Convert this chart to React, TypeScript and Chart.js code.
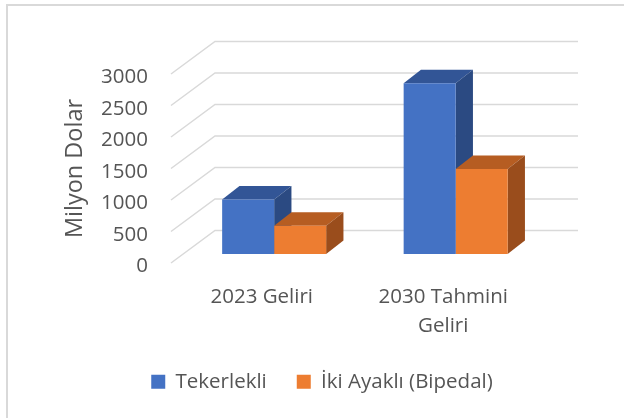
import React, { useEffect, useRef } from "react";
import { Chart, registerables } from "chart.js";

Chart.register(...registerables);

// ---- data ----
const categories = ["2023 Geliri", "2030 Tahmini Geliri"];
const seriesNames = ["Tekerlekli", "İki Ayaklı (Bipedal)"];
const tekerlekli = [865, 2710];
const ikiAyakli = [450, 1350];
const yTickValues = [0, 500, 1000, 1500, 2000, 2500, 3000];
const yAxisTitle = "Milyon Dolar";

// ---- style ----
const FONT = "'Open Sans', 'Noto Sans', sans-serif";
const TEXT = "#555555";
const GRID = "#d9d9d9";
const FRONT_COLORS = ["#4472C4", "#ED7D31"];
const TOP_COLORS = ["#325596", "#B65D22"];
const SIDE_COLORS = ["#2B4A82", "#9A4D1C"];
const FLOOR_DX = 44;
const FLOOR_DY = -32.5;
const BAR_DX = 12.4;
const BAR_DY = -9;
const DEPTH_DX = 17.3;
const DEPTH_DY = -13.5;

function wrapLabel(label: string): string | string[] {
  if (label.length <= 12) return label;
  const w = label.split(" ");
  return [w.slice(0, 2).join(" "), w.slice(2).join(" ")];
}

const threeD = {
  id: "threeD",
  beforeDraw(chart: any) {
    const { ctx, width, height } = chart;
    ctx.save();
    ctx.fillStyle = GRID;
    ctx.fillRect(6, 4, width - 6, 2);
    ctx.fillRect(6, 4, 2, height - 4);
    ctx.restore();
  },
  beforeDatasetsDraw(chart: any) {
    const { ctx, chartArea } = chart;
    const y = chart.scales.y;
    ctx.save();
    ctx.strokeStyle = GRID;
    ctx.lineWidth = 1.5;
    y.ticks.forEach((t: any) => {
      const py = y.getPixelForValue(t.value);
      ctx.beginPath();
      ctx.moveTo(chartArea.left, py);
      ctx.lineTo(chartArea.left + FLOOR_DX, py + FLOOR_DY);
      ctx.lineTo(chartArea.right + FLOOR_DX, py + FLOOR_DY);
      ctx.stroke();
    });
    ctx.restore();

    ctx.save();
    ctx.translate(BAR_DX, BAR_DY);
    chart.data.datasets.forEach((_ds: any, di: number) => {
      const meta = chart.getDatasetMeta(di);
      meta.data.forEach((bar: any) => {
        const { x, y: top, base, width } = bar.getProps(["x", "y", "base", "width"], true);
        const l = x - width / 2;
        const r = x + width / 2;
        ctx.fillStyle = TOP_COLORS[di];
        ctx.beginPath();
        ctx.moveTo(l, top);
        ctx.lineTo(l + DEPTH_DX, top + DEPTH_DY);
        ctx.lineTo(r + DEPTH_DX, top + DEPTH_DY);
        ctx.lineTo(r, top);
        ctx.closePath();
        ctx.fill();
        ctx.fillStyle = SIDE_COLORS[di];
        ctx.beginPath();
        ctx.moveTo(r, top);
        ctx.lineTo(r + DEPTH_DX, top + DEPTH_DY);
        ctx.lineTo(r + DEPTH_DX, base + DEPTH_DY);
        ctx.lineTo(r, base);
        ctx.closePath();
        ctx.fill();
      });
    });
  },
  afterDatasetsDraw(chart: any) {
    chart.ctx.restore();
  },
};

export default function App() {
  const ref = useRef<HTMLCanvasElement>(null);

  useEffect(() => {
    if (!ref.current) return;
    const tickFont = { family: FONT, size: 20.5, lineHeight: 1.4 };
    const chart = new Chart(ref.current, {
      type: "bar",
      data: {
        labels: categories.map(wrapLabel),
        datasets: [
          {
            label: seriesNames[0],
            data: tekerlekli,
            backgroundColor: FRONT_COLORS[0],
            borderWidth: 0,
            clip: false,
            barPercentage: 1,
            categoryPercentage: 0.573,
          },
          {
            label: seriesNames[1],
            data: ikiAyakli,
            backgroundColor: FRONT_COLORS[1],
            borderWidth: 0,
            clip: false,
            barPercentage: 1,
            categoryPercentage: 0.573,
          },
        ] as any,
      },
      options: {
        responsive: false,
        animation: false,
        devicePixelRatio: 1,
        layout: { padding: { left: 20, right: 0, top: 74, bottom: 16 } },
        plugins: {
          legend: {
            position: "bottom",
            labels: {
              boxWidth: 14,
              boxHeight: 14,
              padding: 30,
              color: TEXT,
              font: { family: FONT, size: 20.5 },
            },
          },
          tooltip: { enabled: false },
        },
        scales: {
          x: {
            grid: { display: false, drawTicks: false },
            border: { display: false },
            ticks: {
              color: TEXT,
              font: tickFont,
              padding: 20,
              maxRotation: 0,
              autoSkip: false,
            },
            afterFit: (s: any) => {
              s.height = 78.5;
            },
          },
          y: {
            min: 0,
            max: 3000,
            afterBuildTicks: (s: any) => {
              s.ticks = yTickValues.map((v) => ({ value: v }));
            },
            grid: { display: false, drawTicks: false },
            border: { display: false },
            ticks: {
              color: TEXT,
              font: { family: FONT, size: 20.5 },
              padding: 23,
              labelOffset: 3.5,
              callback: (v: any) => String(v),
            },
            title: {
              display: true,
              text: yAxisTitle,
              color: TEXT,
              font: { family: FONT, size: 23.5 },
              padding: { top: 41, bottom: 14 },
            },
            afterFit: (s: any) => {
              s.width = 151;
            },
          },
          y2: {
            position: "right",
            grid: { display: false, drawTicks: false },
            border: { display: false },
            ticks: { display: false },
            afterFit: (s: any) => {
              s.width = 90;
            },
          },
        },
      } as any,
      plugins: [threeD],
    });
    return () => chart.destroy();
  }, []);

  return (
    <div style={{ position: "absolute", left: 0, top: 0, width: 624, height: 418, background: "#fff" }}>
      <canvas ref={ref} width={624} height={418} style={{ display: "block" }} />
    </div>
  );
}
